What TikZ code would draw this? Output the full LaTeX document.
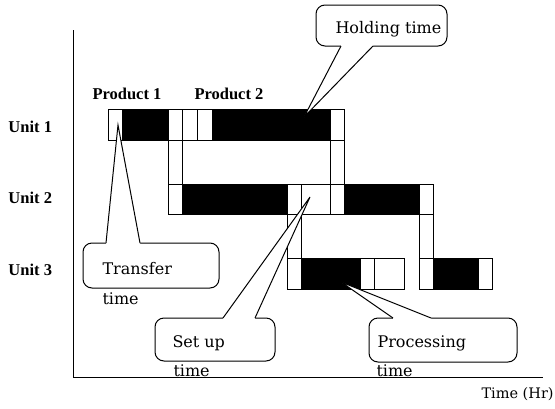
\documentclass[tikz,border=0pt]{standalone}
\usepackage{fontspec}
\newfontfamily\labfont{Liberation Serif}
\newfontfamily\cfont{DejaVu Serif}
\usetikzlibrary{calc}
\begin{document}
\begin{tikzpicture}[x=1pt,y=-1pt,line width=1pt,
  wbox/.style={draw,fill=white},
  bbox/.style={draw,fill=black},
  lab/.style={font=\labfont\bfseries\fontsize{16.5}{19}\selectfont,anchor=base west,inner sep=0pt},
  ctext/.style={font=\cfont\fontsize{16}{19}\selectfont,anchor=base west,inner sep=0pt},
  axlab/.style={font=\cfont\fontsize{14.5}{17}\selectfont,anchor=base west,inner sep=0pt},
  bubble/.style={draw,fill=white,rounded corners=9pt,inner sep=0pt,outer sep=0pt,line join=round},
  ptr/.style={line join=miter}]
\useasboundingbox (0,0) rectangle (555,408);

% axes
\coordinate (ytop) at (73,30);
\coordinate (orig) at (73,377);
\coordinate (xend) at (543,377);
\draw (ytop) -- (orig) -- (xend);

% labels
\node[lab] (p1) at (92,99) {Product 1};
\node[lab] (p2) at (194,99) {Product 2};
\node[lab] (u1) at (8,132) {Unit 1};
\node[lab] (u2) at (8,203) {Unit 2};
\node[lab] (u3) at (8,275) {Unit 3};
\node[axlab] (tax) at (481,398) {Time (Hr)};

% transfer columns
\draw[wbox] (168,140) rectangle (182,184);
\draw[wbox] (330,140) rectangle (344,184);
\draw[wbox] (287,214) rectangle (301,258);
\draw[wbox] (419,214) rectangle (433,258);

% Unit 1
\draw[wbox] (108,109) rectangle (122,140);
\draw[bbox] (122,109) rectangle (168,140);
\draw[wbox] (168,109) rectangle (182,140);
\draw[wbox] (182,109) rectangle (197,140);
\draw[wbox] (197,109) rectangle (212,140);
\draw[bbox] (212,109) rectangle (330,140);
\draw[wbox] (330,109) rectangle (344,140);

% Unit 2
\draw[wbox] (168,184) rectangle (182,214);
\draw[bbox] (182,184) rectangle (287,214);
\draw[wbox] (287,184) rectangle (301,214);
\draw[wbox] (301,184) rectangle (330,214);
\draw[wbox] (330,184) rectangle (344,214);
\draw[bbox] (344,184) rectangle (419,214);
\draw[wbox] (419,184) rectangle (433,214);

% Unit 3
\draw[wbox] (287,258) rectangle (301,289);
\draw[bbox] (301,258) rectangle (360,289);
\draw[wbox] (360,258) rectangle (374,289);
\draw[wbox] (374,258) rectangle (404,289);
\draw[wbox] (419,258) rectangle (433,289);
\draw[bbox] (433,258) rectangle (478,289);
\draw[wbox] (478,258) rectangle (492,289);

% pointer tips
\coordinate (tipH) at (304,117);
\coordinate (tipT) at (118,125);
\coordinate (tipS) at (310,197);
\coordinate (tipP) at (341,282);

% Holding time callout
\node[bubble,minimum width=131pt,minimum height=41pt] (hold) at (381.5,25.5) {};
\fill[white] ($(hold.south west)+(25,-2)$) -- ($(hold.south west)+(25,0)$) -- (tipH) -- ($(hold.south west)+(57,0)$) -- ($(hold.south west)+(57,-2)$) -- cycle;
\draw[ptr] ($(hold.south west)+(25,0)$) -- (tipH) -- ($(hold.south west)+(57,0)$);
\node[ctext] (holdtxt) at (335,33) {Holding time};

% Transfer time callout
\node[bubble,minimum width=136pt,minimum height=45pt] (trans) at (151,265.5) {};
\fill[white] ($(trans.north west)+(23,2)$) -- ($(trans.north west)+(23,0)$) -- (tipT) -- ($(trans.north west)+(57,0)$) -- ($(trans.north west)+(57,2)$) -- cycle;
\draw[ptr] ($(trans.north west)+(23,0)$) -- (tipT) -- ($(trans.north west)+(57,0)$);
\node[ctext] (transtxt) at (102,274) {Transfer};
\node[ctext] (transtime) at (102,304) {time};

% Set up time callout
\node[bubble,minimum width=120pt,minimum height=43pt] (setup) at (215,339.5) {};
\fill[white] ($(setup.north west)+(68,2)$) -- ($(setup.north west)+(68,0)$) -- (tipS) -- ($(setup.north west)+(100,0)$) -- ($(setup.north west)+(100,2)$) -- cycle;
\draw[ptr] ($(setup.north west)+(68,0)$) -- (tipS) -- ($(setup.north west)+(100,0)$);
\node[ctext] (setuptxt) at (172,347) {Set up};
\node[ctext] (setuptime) at (173,376) {time};

% Processing time callout
\node[bubble,minimum width=148pt,minimum height=44pt] (proc) at (443,340) {};
\fill[white] ($(proc.north west)+(24,2)$) -- ($(proc.north west)+(24,0)$) -- (tipP) -- ($(proc.north west)+(62,0)$) -- ($(proc.north west)+(62,2)$) -- cycle;
\draw[ptr] ($(proc.north west)+(24,0)$) -- (tipP) -- ($(proc.north west)+(62,0)$);
\node[ctext] (proctxt) at (377,347) {Processing};
\node[ctext] (proctime) at (376,376) {time};
\end{tikzpicture}
\end{document}
